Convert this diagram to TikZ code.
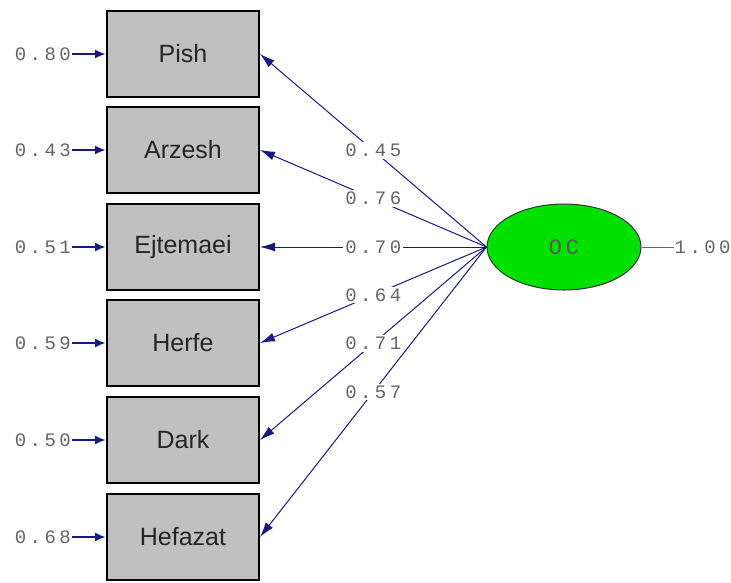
\documentclass[tikz,border=0pt]{standalone}
\usepackage{fontspec}
\setmainfont{Liberation Sans}
\newfontfamily\numfont[LetterSpace=18]{Liberation Mono}
\usetikzlibrary{shapes.geometric,arrows.meta}
\definecolor{navy}{RGB}{25,25,130}
\definecolor{boxgray}{RGB}{192,192,192}
\definecolor{ocgreen}{RGB}{0,225,0}
\definecolor{numgray}{RGB}{100,100,100}
\tikzset{
  var/.style={draw=black, line width=2pt, fill=boxgray, minimum width=152pt, minimum height=86pt, inner sep=0pt, font=\fontsize{25}{27}\selectfont, text=black!85},
  lat/.style={ellipse, draw=black!80, line width=1pt, fill=ocgreen, minimum width=154pt, minimum height=86pt, inner sep=0pt, font=\numfont\fontsize{22}{24}\selectfont, text=black!65},
  num/.style={font=\numfont\fontsize{19}{21}\selectfont, text=numgray, inner sep=1pt},
  load/.style={draw=navy, line width=1pt, -{Latex[length=15pt,width=9pt]}},
  err/.style={draw=navy, line width=2.5pt, -{Latex[length=11pt,width=9pt]}},
  lab/.style={num, fill=white, inner sep=2pt}
}
\begin{document}
\begin{tikzpicture}[x=1pt,y=-1pt]
\useasboundingbox (0,0) rectangle (731,582);
\node[var] (pish) at (183,54) {Pish};
\node[var] (arzesh) at (183,150) {Arzesh};
\node[var] (ejt) at (183,247) {Ejtemaei};
\node[var] (herfe) at (183,343) {Herfe};
\node[var] (dark) at (183,440) {Dark};
\node[var] (hef) at (183,537) {Hefazat};
\node[lat] (oc) at (564,247) {OC};
\foreach \n/\v in {pish/0.80,arzesh/0.43,ejt/0.51,herfe/0.59,dark/0.50,hef/0.68}{
  \node[num, anchor=east] (e\n) at ([xshift=-34pt]\n.west) {\v};
  \draw[err] (e\n.east) -- (\n.west);
}
\foreach \n/\v in {pish/0.45,arzesh/0.76,ejt/0.70,herfe/0.64,dark/0.71,hef/0.57}{
  \draw[load] (oc.west) -- node[lab, pos=0.5] {\v} (\n.east);
}
\node[num, anchor=west] (res) at ([xshift=32pt]oc.east) {1.00};
\draw[navy!30!gray, line width=0.6pt] (oc.east) -- (res.west);
\end{tikzpicture}
\end{document}
